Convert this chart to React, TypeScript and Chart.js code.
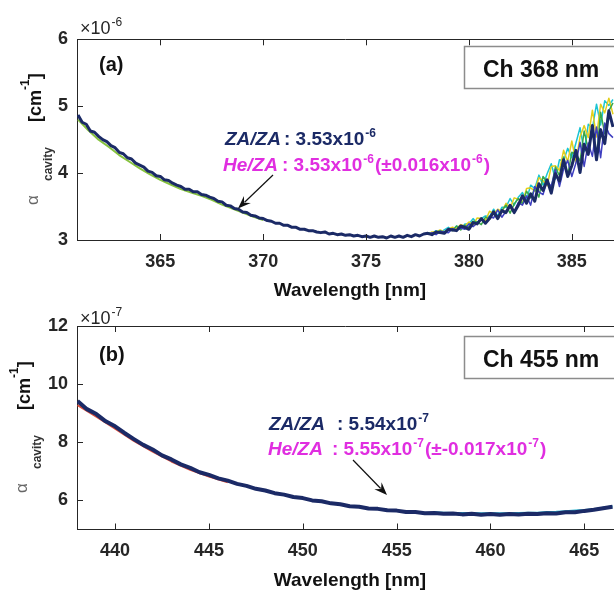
import React, { useEffect, useRef } from "react";
import { Chart, registerables } from "chart.js";

Chart.register(...registerables);

// ---------------- panel (a) data ----------------
const A_X_TICKS = [365, 370, 375, 380, 385];
const A_Y_TICKS = [3, 4, 5, 6];

// navy trace, 361.0 .. 387.0 nm every 0.2 nm
const A_NAVY_START = 361.0;
const A_NAVY_STEP = 0.2;
const A_NAVY = [
  4.87, 4.76, 4.73, 4.63, 4.61, 4.55, 4.5, 4.47, 4.41, 4.38,
  4.31, 4.29, 4.23, 4.21, 4.15, 4.12, 4.09, 4.03, 4.01, 3.96,
  3.95, 3.9, 3.89, 3.85, 3.82, 3.8, 3.76, 3.76, 3.72, 3.72,
  3.68, 3.67, 3.64, 3.62, 3.58, 3.57, 3.52, 3.51, 3.47, 3.46,
  3.42, 3.41, 3.37, 3.36, 3.33, 3.32, 3.29, 3.28, 3.25, 3.25,
  3.22, 3.22, 3.19, 3.19, 3.16, 3.16, 3.14, 3.14, 3.12, 3.11,
  3.12, 3.09, 3.1, 3.08, 3.09, 3.07, 3.08, 3.06, 3.07, 3.05,
  3.06, 3.04, 3.06, 3.04, 3.05, 3.03, 3.06, 3.04, 3.06, 3.04,
  3.07, 3.05, 3.08, 3.06, 3.09,
  3.1, 3.08, 3.12, 3.11, 3.1, 3.16, 3.15, 3.14, 3.21, 3.19,
  3.16, 3.26, 3.24, 3.32, 3.25, 3.32, 3.42, 3.32, 3.44, 3.41,
  3.52, 3.41, 3.52, 3.66, 3.55, 3.69, 3.58, 3.84, 3.74, 3.9,
  3.7, 3.99, 3.88, 4.2, 3.95, 4.11, 4.34, 4.01, 4.43, 4.28,
  4.71, 4.2, 4.65, 4.44, 4.93, 4.69,
];

// coloured traces on the noisy right side, 378.0 .. 387.0 nm every 0.2 nm
const A_RIGHT_START = 378.0;
const A_RIGHT_STEP = 0.2;
const A_CYAN = [
  3.11, 3.1, 3.14, 3.11, 3.15, 3.19, 3.15, 3.21, 3.16, 3.24,
  3.24, 3.32, 3.25, 3.32, 3.36, 3.35, 3.46, 3.36, 3.49, 3.49,
  3.62, 3.52, 3.64, 3.71, 3.6, 3.82, 3.77, 3.97, 3.82, 3.99,
  4.14, 3.91, 4.2, 4.18, 4.37, 4.23, 4.45, 4.68, 4.32, 4.73,
  4.67, 5.03, 4.72, 5.08, 5.01, 5.1,
];
const A_YELLOW = [
  3.08, 3.12, 3.12, 3.15, 3.12, 3.16, 3.19, 3.17, 3.23, 3.21,
  3.27, 3.22, 3.33, 3.32, 3.29, 3.43, 3.39, 3.46, 3.42, 3.55,
  3.47, 3.63, 3.61, 3.55, 3.77, 3.78, 3.73, 3.93, 3.89, 3.81,
  4.1, 4.11, 4.04, 4.34, 4.17, 4.48, 4.17, 4.54, 4.71, 4.53,
  4.94, 4.54, 5.03, 4.9, 5.12, 4.88,
];
const A_GREEN = [
  3.11, 3.09, 3.11, 3.14, 3.11, 3.15, 3.14, 3.21, 3.15, 3.22,
  3.19, 3.28, 3.27, 3.23, 3.34, 3.32, 3.42, 3.34, 3.44, 3.52,
  3.4, 3.54, 3.62, 3.54, 3.73, 3.63, 3.77, 3.64, 3.95, 3.87,
  3.78, 4.09, 3.96, 4.24, 3.97, 4.31, 4.29, 4.18, 4.63, 4.34,
  4.71, 4.24, 4.91, 4.59, 4.93, 5.05,
];
const A_PURPLE = [
  3.08, 3.11, 3.08, 3.13, 3.12, 3.11, 3.17, 3.15, 3.18, 3.16,
  3.24, 3.2, 3.25, 3.31, 3.25, 3.35, 3.33, 3.45, 3.34, 3.43,
  3.52, 3.43, 3.56, 3.52, 3.66, 3.52, 3.8, 3.72, 3.68, 3.88,
  3.8, 4.05, 3.8, 4.06, 4.19, 3.95, 4.15, 4.46, 4.1, 4.45,
  4.25, 4.69, 4.23, 4.75, 4.59, 4.53,
];
// light trace peeking under the left side, 361.0 .. 370.0 nm every 0.5 nm
const A_LEFT_START = 361.0;
const A_LEFT_STEP = 0.5;
const A_LIME = [
  4.8, 4.64, 4.5, 4.39, 4.27, 4.17, 4.07, 3.98, 3.9, 3.83,
  3.76, 3.71, 3.66, 3.6, 3.53, 3.47, 3.41, 3.35, 3.3,
];

// ---------------- panel (b) data ----------------
const B_X_TICKS = [440, 445, 450, 455, 460, 465];
const B_Y_TICKS = [6, 8, 10, 12];

// navy trace, 438.0 .. 466.5 nm every 0.5 nm
const B_NAVY_START = 438.0;
const B_NAVY_STEP = 0.5;
const B_NAVY = [
  9.42, 9.14, 8.97, 8.72, 8.55, 8.32, 8.11, 7.91, 7.75, 7.55,
  7.41, 7.24, 7.12, 6.97, 6.88, 6.76, 6.68, 6.57, 6.5, 6.4,
  6.34, 6.25, 6.2, 6.12, 6.08, 6.0, 5.97, 5.9, 5.87, 5.8,
  5.78, 5.72, 5.71, 5.66, 5.65, 5.6, 5.6, 5.56, 5.57, 5.54,
  5.55, 5.52, 5.54, 5.51, 5.53, 5.51, 5.53, 5.52, 5.54, 5.53,
  5.56, 5.55, 5.59, 5.59, 5.64, 5.68, 5.73, 5.78,
];
// red trace under the left side, 438 .. 446 nm every 1 nm
const B_RED_START = 438.0;
const B_RED_STEP = 1.0;
const B_RED = [9.28, 8.88, 8.47, 8.05, 7.68, 7.34, 7.05, 6.82, 6.62];
// cyan trace over the right side, 457.0 .. 466.5 nm every 0.5 nm
const B_CYAN_START = 457.0;
const B_CYAN_STEP = 0.5;
const B_CYAN = [
  5.59, 5.58, 5.57, 5.57, 5.56, 5.56, 5.56, 5.56, 5.56, 5.57,
  5.58, 5.58, 5.6, 5.61, 5.63, 5.65, 5.67, 5.7, 5.75, 5.8,
];

// ---------------- styling ----------------
const FAM = '"Liberation Sans", Arial, Helvetica, sans-serif';
const AX = "#262626";
const NAVY = "#1b2a66";
const MAG = "#e02ee0";

type Run = { t: string; size: number; bold?: boolean; italic?: boolean; sup?: boolean; at?: number; gap?: number };

const fontOf = (r: Run) => `${r.italic ? "italic " : ""}${r.bold ? "bold " : ""}${r.size}px ${FAM}`;

const pts = (start: number, step: number, ys: number[]) =>
  ys.map((y, i) => ({ x: +(start + i * step).toFixed(3), y }));

function drawRuns(ctx: CanvasRenderingContext2D, x: number, y: number, runs: Run[], color: string) {
  ctx.fillStyle = color;
  ctx.textAlign = "left";
  ctx.textBaseline = "alphabetic";
  let cx = x;
  for (const r of runs) {
    if (r.at !== undefined) cx = r.at;
    cx += r.gap ?? 0;
    ctx.font = fontOf(r);
    ctx.fillText(r.t, cx, r.sup ? y - 8 : y);
    cx += ctx.measureText(r.t).width;
  }
}

function drawRot(ctx: CanvasRenderingContext2D, text: string, bx: number, y: number, font: string, color: string) {
  ctx.save();
  ctx.translate(bx, y);
  ctx.rotate(-Math.PI / 2);
  ctx.font = font;
  ctx.fillStyle = color;
  ctx.textAlign = "left";
  ctx.textBaseline = "alphabetic";
  ctx.fillText(text, 0, 0);
  const w = ctx.measureText(text).width;
  ctx.restore();
  return w;
}

function drawArrow(ctx: CanvasRenderingContext2D, x1: number, y1: number, x2: number, y2: number) {
  const ang = Math.atan2(y2 - y1, x2 - x1);
  const L = 13;
  const W = 5;
  ctx.strokeStyle = "#111";
  ctx.fillStyle = "#111";
  ctx.lineWidth = 1.2;
  ctx.beginPath();
  ctx.moveTo(x1, y1);
  ctx.lineTo(x2 - Math.cos(ang) * L * 0.7, y2 - Math.sin(ang) * L * 0.7);
  ctx.stroke();
  const bx = x2 - Math.cos(ang) * L;
  const by = y2 - Math.sin(ang) * L;
  const mx = x2 - Math.cos(ang) * L * 0.65;
  const my = y2 - Math.sin(ang) * L * 0.65;
  ctx.beginPath();
  ctx.moveTo(x2, y2);
  ctx.lineTo(bx + Math.sin(ang) * W, by - Math.cos(ang) * W);
  ctx.lineTo(mx, my);
  ctx.lineTo(bx - Math.sin(ang) * W, by + Math.cos(ang) * W);
  ctx.closePath();
  ctx.fill();
}

type Series = { data: { x: number; y: number }[]; color: string; width: number };

type PanelCfg = {
  height: number;
  plotTop: number;
  plotBottom: number;
  xMin: number;
  xMax: number;
  yMin: number;
  yMax: number;
  xTicks: number[];
  yTicks: number[];
  series: Series[];
  exp: string;
  letter: string;
  chan: string;
  line1: Run[];
  line2: Run[];
  y1: number;
  y2: number;
  arrow: [number, number, number, number];
  tdx: number;
  tdy: number;
};

const PANEL_A: PanelCfg = {
  height: 305,
  plotTop: 39.3,
  plotBottom: 240,
  xMin: 360.95,
  xMax: 387.05,
  yMin: 3,
  yMax: 6,
  xTicks: A_X_TICKS,
  yTicks: A_Y_TICKS,
  series: [
    { data: pts(A_NAVY_START, A_NAVY_STEP, A_NAVY), color: NAVY, width: 3 },
    { data: pts(A_RIGHT_START, A_RIGHT_STEP, A_PURPLE), color: "#3f3fc0", width: 1.5 },
    { data: pts(A_RIGHT_START, A_RIGHT_STEP, A_GREEN), color: "#3aa84a", width: 1.5 },
    { data: pts(A_RIGHT_START, A_RIGHT_STEP, A_YELLOW), color: "#e3cf1c", width: 1.5 },
    { data: pts(A_RIGHT_START, A_RIGHT_STEP, A_CYAN), color: "#1cc4d4", width: 1.5 },
    { data: pts(A_LEFT_START, A_LEFT_STEP, A_LIME), color: "#86c23e", width: 2 },
  ],
  exp: "-6",
  letter: "(a)",
  chan: "Ch 368 nm",
  line1: [
    { t: "ZA/ZA", size: 19, bold: true, italic: true, at: 225 },
    { t: ": 3.53x10", size: 19, bold: true, at: 284 },
    { t: "-6", size: 12, bold: true, sup: true, gap: 1 },
  ],
  line2: [
    { t: "He/ZA", size: 19, bold: true, italic: true, at: 223 },
    { t: ": 3.53x10", size: 19, bold: true, at: 282 },
    { t: "-6", size: 12, bold: true, sup: true, gap: 1 },
    { t: "(±0.016x10", size: 19, bold: true, gap: 1 },
    { t: "-6", size: 12, bold: true, sup: true, gap: 1 },
    { t: ")", size: 19, bold: true, gap: 1 },
  ],
  y1: 145,
  y2: 171,
  arrow: [273, 175, 238, 208.5],
  tdx: 0,
  tdy: 0,
};

const PANEL_B: PanelCfg = {
  height: 300,
  plotTop: 36,
  plotBottom: 239.5,
  xMin: 437.97,
  xMax: 466.58,
  yMin: 5,
  yMax: 12,
  xTicks: B_X_TICKS,
  yTicks: B_Y_TICKS,
  series: [
    { data: pts(B_NAVY_START, B_NAVY_STEP, B_NAVY), color: NAVY, width: 4 },
    { data: pts(B_RED_START, B_RED_STEP, B_RED), color: "#e0503c", width: 2 },
    { data: pts(B_CYAN_START, B_CYAN_STEP, B_CYAN), color: "#2bb8d0", width: 2 },
  ],
  exp: "-7",
  letter: "(b)",
  chan: "Ch 455 nm",
  line1: [
    { t: "ZA/ZA", size: 19, bold: true, italic: true, at: 269 },
    { t: ": 5.54x10", size: 19, bold: true, at: 337 },
    { t: "-7", size: 12, bold: true, sup: true, gap: 1 },
  ],
  line2: [
    { t: "He/ZA", size: 19, bold: true, italic: true, at: 268 },
    { t: ": 5.55x10", size: 19, bold: true, at: 332 },
    { t: "-7", size: 12, bold: true, sup: true, gap: 1 },
    { t: "(±-0.017x10", size: 19, bold: true, gap: 1 },
    { t: "-7", size: 12, bold: true, sup: true, gap: 1 },
    { t: ")", size: 19, bold: true, gap: 1 },
  ],
  y1: 140,
  y2: 165,
  arrow: [353, 170, 387, 205],
  tdx: -11,
  tdy: -2,
};

function makeDecor(cfg: PanelCfg) {
  return {
    id: "decor",
    afterDraw(chart: Chart) {
      const ctx = chart.ctx;
      const { left, right, top, bottom } = chart.chartArea;
      const xs = chart.scales.x;
      const ys = chart.scales.y;
      ctx.save();
      // top border
      ctx.strokeStyle = AX;
      ctx.lineWidth = 1;
      ctx.beginPath();
      ctx.moveTo(left, Math.round(top) + 0.5);
      ctx.lineTo(right, Math.round(top) + 0.5);
      ctx.stroke();
      // inward ticks
      ctx.beginPath();
      for (const v of cfg.xTicks) {
        const px = Math.round(xs.getPixelForValue(v)) + 0.5;
        ctx.moveTo(px, bottom);
        ctx.lineTo(px, bottom - 6);
        ctx.moveTo(px, top);
        ctx.lineTo(px, top + 6);
      }
      for (const v of cfg.yTicks) {
        const py = Math.round(ys.getPixelForValue(v)) + 0.5;
        ctx.moveTo(left, py);
        ctx.lineTo(left + 6, py);
      }
      ctx.stroke();

      // exponent label
      drawRuns(ctx, 80, 33.5, [
        { t: "×10", size: 18 },
        { t: cfg.exp, size: 12, sup: true, gap: 1 },
      ], AX);

      // panel letter
      drawRuns(ctx, 99, 71, [{ t: cfg.letter, size: 20, bold: true }], "#111");

      // channel box
      ctx.fillStyle = "#fff";
      ctx.fillRect(464.5, 46.5, 200, 42);
      ctx.strokeStyle = "#8c8c8c";
      ctx.lineWidth = 1.5;
      ctx.strokeRect(464.5, 46.5, 200, 42);
      drawRuns(ctx, 483, 76.5, [{ t: cfg.chan, size: 23, bold: true }], "#111");

      // annotation
      drawRuns(ctx, 0, cfg.y1, cfg.line1, NAVY);
      drawRuns(ctx, 0, cfg.y2, cfg.line2, MAG);
      drawArrow(ctx, ...cfg.arrow);

      // y-axis title
      const dx = cfg.tdx;
      const dy = cfg.tdy;
      drawRot(ctx, "α", 38 + dx, 205 + dy, `17px ${FAM}`, "#666");
      drawRot(ctx, "cavity", 51.5 + dx, 181 + dy, `bold 12px ${FAM}`, "#333");
      let yy = 122 + dy;
      yy -= drawRot(ctx, "[cm", 41 + dx, yy, `bold 18px ${FAM}`, "#111");
      yy -= drawRot(ctx, "-1", 28.5 + dx, yy, `bold 12px ${FAM}`, "#111");
      drawRot(ctx, "]", 41 + dx, yy, `bold 18px ${FAM}`, "#111");

      // x-axis title
      ctx.font = `bold 19px ${FAM}`;
      ctx.fillStyle = "#111";
      ctx.textAlign = "center";
      ctx.textBaseline = "alphabetic";
      ctx.fillText("Wavelength [nm]", 350, 296);
      ctx.restore();
    },
  };
}

function Panel({ cfg, top }: { cfg: PanelCfg; top: number }) {
  const ref = useRef<HTMLCanvasElement>(null);
  useEffect(() => {
    const canvas = ref.current!;
    const tickFont = { family: FAM, size: 18, weight: "bold" as const };
    const chart = new Chart(canvas, {
      type: "line",
      data: {
        datasets: cfg.series.map((s) => ({
          data: s.data,
          borderColor: s.color,
          borderWidth: s.width,
          pointRadius: 0,
          tension: 0,
          fill: false,
          borderJoinStyle: "round" as const,
        })),
      },
      options: {
        responsive: false,
        maintainAspectRatio: false,
        animation: false,
        events: [],
        layout: { padding: { top: cfg.plotTop, left: 0, right: 0, bottom: 0 } },
        plugins: { legend: { display: false }, tooltip: { enabled: false }, title: { display: false } },
        scales: {
          x: {
            type: "linear",
            min: cfg.xMin,
            max: cfg.xMax,
            afterBuildTicks: (s: any) => {
              s.ticks = cfg.xTicks.map((v) => ({ value: v }));
            },
            afterFit: (s: any) => {
              s.height = cfg.height - cfg.plotBottom;
            },
            grid: { display: false, drawTicks: false },
            border: { display: true, color: AX, width: 1 },
            ticks: { font: tickFont, color: AX, padding: 11, autoSkip: false, maxRotation: 0, callback: (v: any) => String(v) },
          },
          y: {
            type: "linear",
            min: cfg.yMin,
            max: cfg.yMax,
            afterBuildTicks: (s: any) => {
              s.ticks = cfg.yTicks.map((v) => ({ value: v }));
            },
            afterFit: (s: any) => {
              s.width = 77;
            },
            grid: { display: false, drawTicks: false },
            border: { display: true, color: AX, width: 1 },
            ticks: { font: tickFont, color: AX, padding: 9, autoSkip: false, callback: (v: any) => String(v) },
          },
        },
      },
      plugins: [makeDecor(cfg)],
    });
    return () => chart.destroy();
  }, [cfg]);
  return (
    <canvas
      ref={ref}
      width={614}
      height={cfg.height}
      style={{ position: "absolute", left: 0, top, width: 614, height: cfg.height }}
    />
  );
}

export default function App() {
  return (
    <div
      style={{
        position: "fixed",
        left: 0,
        top: 0,
        width: 614,
        height: 590,
        overflow: "hidden",
        background: "#fff",
      }}
    >
      <Panel cfg={PANEL_A} top={0} />
      <Panel cfg={PANEL_B} top={290} />
    </div>
  );
}
